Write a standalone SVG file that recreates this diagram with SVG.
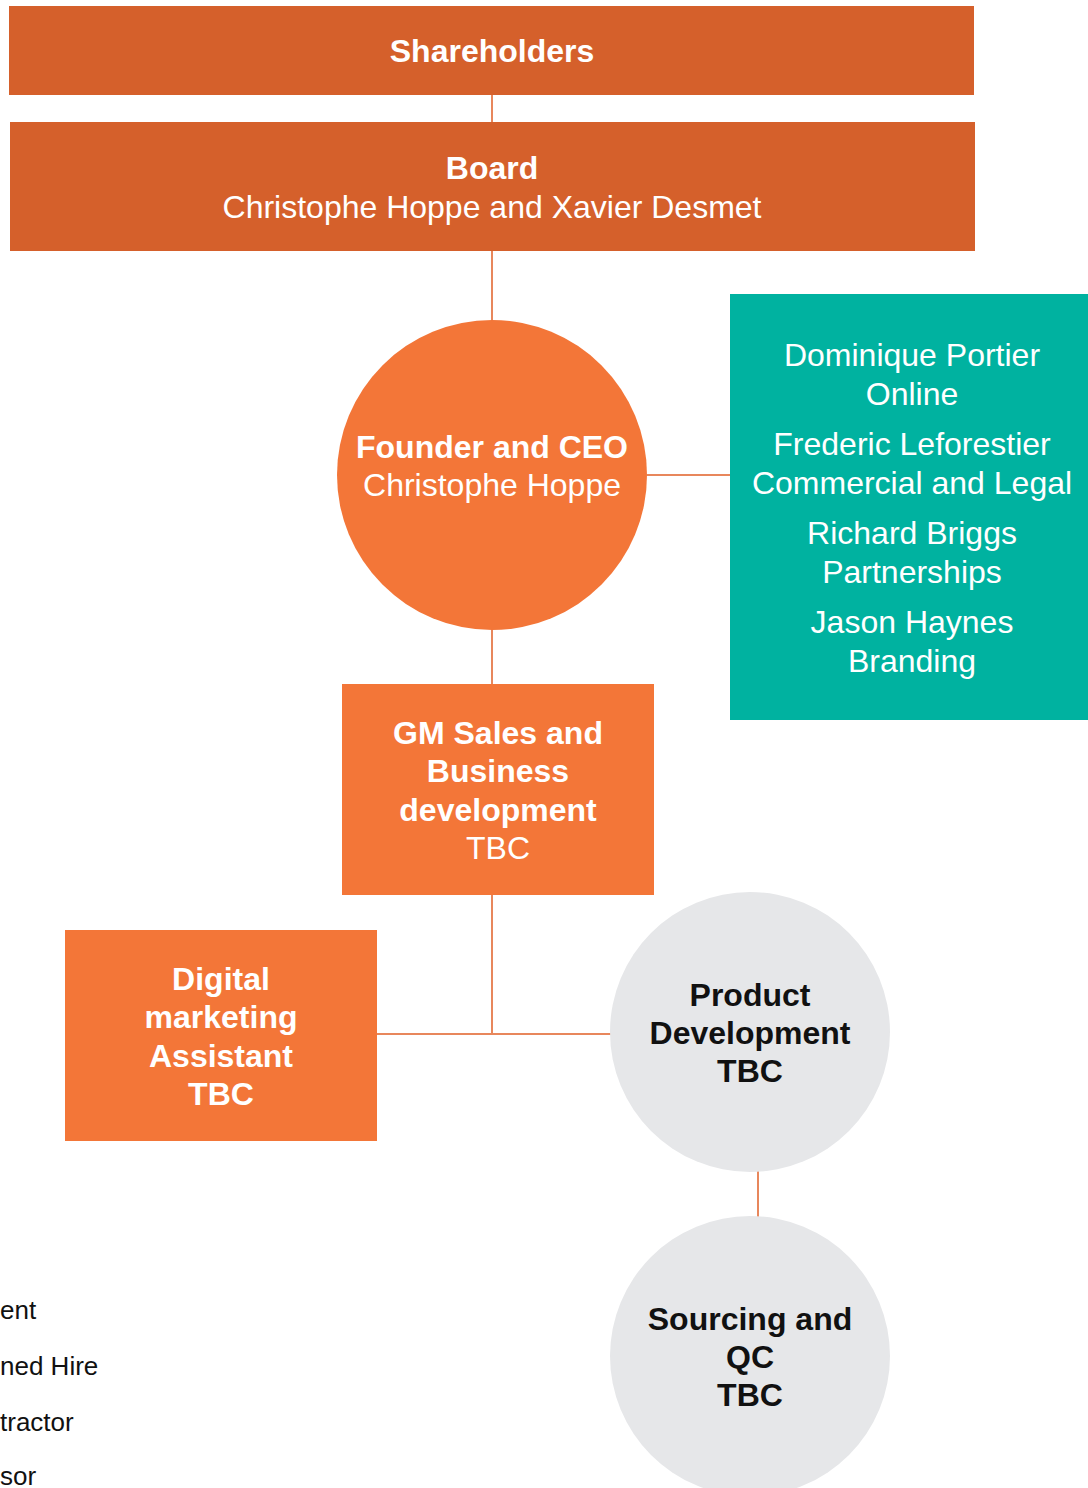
<svg xmlns="http://www.w3.org/2000/svg" width="1088" height="1488" viewBox="0 0 1088 1488">
  <style>
    text { font-family: "Liberation Sans", Arial, sans-serif; text-anchor: middle; }
    .t { font-size: 32px; fill: #ffffff; }
    .b { font-weight: bold; }
    .dk { fill: #111111; font-size: 32px; }
    .leg { font-size: 26px; fill: #111111; text-anchor: start; }
    .link { stroke: #E8875C; stroke-width: 2; fill: none; }
    .dark { fill: #D5602B; }
    .org { fill: #F37638; }
    .teal { fill: #00B2A0; }
    .grey { fill: #E6E7E9; }
  </style>

  <!-- connectors -->
  <g id="connectors">
    <line class="link" x1="492" y1="95" x2="492" y2="122"/>
    <line class="link" x1="492" y1="251" x2="492" y2="320"/>
    <line class="link" x1="647" y1="475" x2="730" y2="475"/>
    <line class="link" x1="492" y1="630" x2="492" y2="684"/>
    <line class="link" x1="492" y1="895" x2="492" y2="1034"/>
    <line class="link" x1="377" y1="1034" x2="612" y2="1034"/>
    <line class="link" x1="758" y1="1170" x2="758" y2="1218"/>
  </g>

  <g id="shareholders">
    <rect class="dark" x="9" y="6" width="965" height="89"/>
    <text class="t b" x="492" y="62">Shareholders</text>
  </g>

  <g id="board">
    <rect class="dark" x="10" y="122" width="965" height="129"/>
    <text class="t b" x="492" y="179">Board</text>
    <text class="t" x="492" y="218">Christophe Hoppe and Xavier Desmet</text>
  </g>

  <g id="ceo">
    <circle class="org" cx="492" cy="475" r="155"/>
    <text class="t b" x="492" y="458">Founder and CEO</text>
    <text class="t" x="492" y="496">Christophe Hoppe</text>
  </g>

  <g id="advisors">
    <rect class="teal" x="730" y="294" width="358" height="426"/>
    <text class="t" x="912" y="366">Dominique Portier</text>
    <text class="t" x="912" y="405">Online</text>
    <text class="t" x="912" y="455">Frederic Leforestier</text>
    <text class="t" x="912" y="494">Commercial and Legal</text>
    <text class="t" x="912" y="544">Richard Briggs</text>
    <text class="t" x="912" y="583">Partnerships</text>
    <text class="t" x="912" y="633">Jason Haynes</text>
    <text class="t" x="912" y="672">Branding</text>
  </g>

  <g id="gm-sales">
    <rect class="org" x="342" y="684" width="312" height="211"/>
    <text class="t b" x="498" y="744">GM Sales and</text>
    <text class="t b" x="498" y="782">Business</text>
    <text class="t b" x="498" y="821">development</text>
    <text class="t" x="498" y="859">TBC</text>
  </g>

  <g id="digital-marketing">
    <rect class="org" x="65" y="930" width="312" height="211"/>
    <text class="t b" x="221" y="990">Digital</text>
    <text class="t b" x="221" y="1028">marketing</text>
    <text class="t b" x="221" y="1067">Assistant</text>
    <text class="t b" x="221" y="1105">TBC</text>
  </g>

  <g id="product-development">
    <circle class="grey" cx="750" cy="1032" r="140"/>
    <text class="dk b" x="750" y="1006">Product</text>
    <text class="dk b" x="750" y="1044">Development</text>
    <text class="dk b" x="750" y="1082">TBC</text>
  </g>

  <g id="sourcing-qc">
    <circle class="grey" cx="750" cy="1356" r="140"/>
    <text class="dk b" x="750" y="1330">Sourcing and</text>
    <text class="dk b" x="750" y="1368">QC</text>
    <text class="dk b" x="750" y="1406">TBC</text>
  </g>

  <g id="legend">
    <text class="leg" x="0" y="1319">ent</text>
    <text class="leg" x="0" y="1375">ned Hire</text>
    <text class="leg" x="0" y="1431">tractor</text>
    <text class="leg" x="0" y="1485">sor</text>
  </g>
</svg>
